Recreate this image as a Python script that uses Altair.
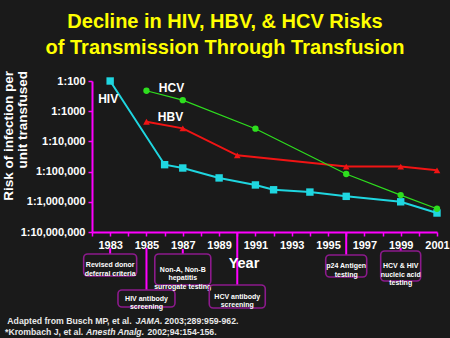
import altair as alt
import pandas as pd

# ---- data ----
hiv_years = [1983, 1986, 1987, 1989, 1991, 1992, 1994, 1996, 1999, 2001]
hiv_risk = [100, 59000, 76000, 162000, 277000, 400000, 476000, 660000, 1000000, 2350000]
hcv_years = [1985, 1987, 1991, 1996, 1999, 2001]
hcv_risk = [210, 430, 3800, 120000, 600000, 1700000]
hbv_years = [1985, 1987, 1990, 1996, 1999, 2001]
hbv_risk = [2240, 3700, 29000, 68000, 68000, 91000]

y_ticks = [100, 1000, 10000, 100000, 1000000, 10000000]
x_ticks = list(range(1982, 2002))

event_years = [1983, 1985, 1987, 1990, 1996, 1999]
event_texts = [
    ["Revised donor", "deferral criteria"],
    ["HIV antibody", "screening"],
    ["Non-A, Non-B", "hepatitis", "surrogate testing"],
    ["HCV antibody", "screening"],
    ["p24 Antigen", "testing"],
    ["HCV & HIV", "nucleic acid", "testing"],
]

title_lines = ["Decline in HIV, HBV, & HCV Risks", "of Transmission Through Transfusion"]
y_title_lines = ["Risk of infection per", "unit transfused"]

# ---- layout (pixels) ----
OX, OY = 92, 81          # plot origin in the page
W, H = 345, 151
BG = "#1a1a1a"
MAG = "#ff00ff"
BOX = "#8c1a8c"
FONT = "Liberation Sans"
NARROW = "Liberation Sans Narrow, Arial Narrow, Liberation Sans"

x_enc = alt.X(
    "year:Q",
    scale=alt.Scale(domain=[1982, 2001], nice=False, zero=False),
    axis=alt.Axis(
        values=x_ticks, format="d", labelExpr="datum.value % 2 == 1 ? datum.label : ''",
        labelOverlap=False, title=None, grid=False, domainColor=MAG, domainWidth=2,
        tickColor=MAG, tickWidth=1.5, tickSize=4, labelColor="white", labelFont=NARROW,
        labelFontWeight="bold", labelFontSize=11, labelPadding=3, labelFlush=False,
    ),
)
y_enc = alt.Y(
    "risk:Q",
    scale=alt.Scale(type="log", domain=[100, 10000000], reverse=True, nice=False),
    axis=alt.Axis(
        values=y_ticks,
        labelExpr="datum.value < 10000 ? '1:' + datum.value : '1:' + format(datum.value, ',')",
        labelOverlap=False, title=None, grid=False, domainColor=MAG, domainWidth=2,
        tickColor=MAG, tickWidth=1.5, tickSize=4, labelColor="white", labelFont=FONT,
        labelFontWeight="bold", labelFontSize=11, labelPadding=3,
    ),
)

layers = []

series = [
    ("HIV", hiv_years, hiv_risk, "#1fd6e0", "square", 2, 55, -2, 18),
    ("HBV", hbv_years, hbv_risk, "#f01414", "triangle-up", 2, 45, 24, -5),
    ("HCV", hcv_years, hcv_risk, "#2ede1e", "circle", 1.2, 40, 25, -3),
]
for name, yrs, vals, col, shape, sw, size, dx, dy in series:
    df = pd.DataFrame({"year": yrs, "risk": vals})
    layers.append(alt.Chart(df).mark_line(color=col, strokeWidth=sw).encode(x=x_enc, y=y_enc))
    layers.append(
        alt.Chart(df).mark_point(shape=shape, filled=True, color=col, size=size, opacity=1)
        .encode(x=x_enc, y=y_enc)
    )
    layers.append(
        alt.Chart(df.iloc[[0]]).mark_text(
            text=name, dx=dx, dy=dy, color="white", font=FONT, fontWeight="bold",
            fontSize=12, align="center", baseline="middle",
        ).encode(x=x_enc, y=y_enc)
    )

# event annotation boxes: (top, bottom, width, connector start) in page pixels
box_geom = [
    (254, 276, 53, 248),
    (290, 307, 57, 248),
    (254, 285, 56, 249),
    (285, 308, 56, 232),
    (255, 277, 41, 232),
    (251, 281, 40, 248),
]
for yr, lines, (top, bot, bw, cstart) in zip(event_years, event_texts, box_geom):
    edf = pd.DataFrame({"year": [yr], "label": ["\n".join(lines)]})
    layers.append(
        alt.Chart(edf).mark_rule(color=MAG, strokeWidth=2)
        .encode(x=x_enc, y=alt.value(cstart - OY), y2=alt.value(top - OY))
    )
    layers.append(
        alt.Chart(edf).mark_rect(
            filled=False, color=BOX, strokeWidth=1.6, cornerRadius=4,
            xOffset=-bw / 2, x2Offset=bw / 2,
        ).encode(x=x_enc, x2="year:Q", y=alt.value(top - OY), y2=alt.value(bot - OY))
    )
    layers.append(
        alt.Chart(edf).mark_text(
            color="white", font=FONT, fontWeight="bold", fontSize=7, lineBreak="\n",
            lineHeight=8.7, align="center", baseline="middle",
        ).encode(x=x_enc, y=alt.value((top + bot) / 2 - OY), text="label:N")
    )

def txt(s, px, py, size, color="white", weight="bold", style="normal", align="left",
        baseline="alphabetic", angle=0, font=FONT):
    kw = dict(color=color, font=font, fontWeight=weight, fontStyle=style, fontSize=size,
              align=align, baseline=baseline)
    if angle:
        kw["angle"] = angle
    return alt.Chart(pd.DataFrame({"t": [s]})).mark_text(**kw).encode(
        text="t:N", x=alt.value(px - OX), y=alt.value(py - OY)
    )

# title
layers.append(txt(title_lines[0], 225, 27.7, 20, color="#ffff00", align="center"))
layers.append(txt(title_lines[1], 225, 54, 20, color="#ffff00", align="center"))
# y axis title (rotated)
layers.append(txt(y_title_lines[0], 9, 71, 13.5, align="right", baseline="middle", angle=270))
layers.append(txt(y_title_lines[1], 22.5, 71, 13.5, align="right", baseline="middle", angle=270))
# x axis title
layers.append(txt("Year", 244, 268, 14.5, align="center", font=NARROW))
# footnotes
fn = "#e8e8e8"
layers.append(txt("Adapted from Busch MP, et al.", 7.3, 324, 8.7, color=fn))
layers.append(txt("JAMA.", 135.5, 324, 8.7, color=fn, style="italic"))
layers.append(txt("2003;289:959-962.", 164.5, 324, 8.7, color=fn))
layers.append(txt("*Krombach J, et al.", 5, 334.5, 8.7, color=fn))
layers.append(txt("Anesth Analg.", 86, 334.5, 8.7, color=fn, style="italic"))
layers.append(txt("2002;94:154-156.", 147.5, 334.5, 8.7, color=fn))

chart = (
    alt.layer(*layers)
    .properties(
        width=W, height=H, background=BG,
        autosize=alt.AutoSizeParams(type="none"),
        padding={"left": OX, "top": OY, "right": 450 - OX - W, "bottom": 338 - OY - H},
    )
    .configure_view(stroke=None)
)

chart.save("out.html", embed_options={"renderer": "svg", "actions": False})
